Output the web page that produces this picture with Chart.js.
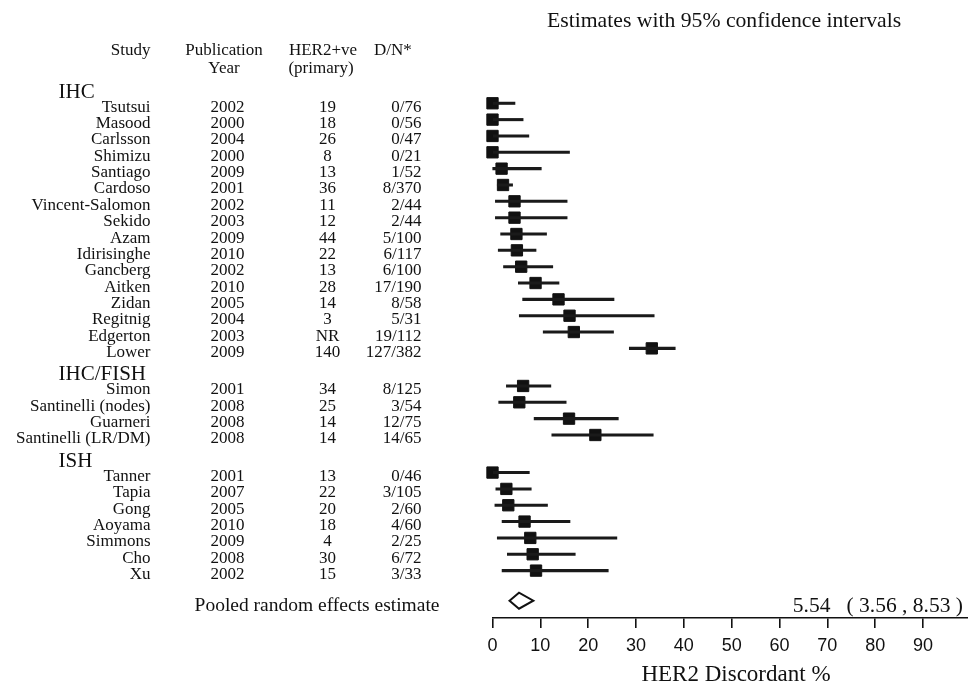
<!DOCTYPE html>
<html>
<head>
<meta charset="utf-8">
<title>HER2 discordance forest plot</title>
<script src="https://cdn.jsdelivr.net/npm/chart.js@4/dist/chart.umd.min.js"></script>
<style>
  html, body { margin: 0; padding: 0; background: #fff; }
  canvas { display: block; }
</style>
</head>
<body>
<canvas id="forest" width="968" height="683"></canvas>
<script>
const groupNames = ['IHC', 'IHC/FISH', 'ISH'];
const studyGroup = [0, 0, 0, 0, 0, 0, 0, 0, 0, 0, 0, 0, 0, 0, 0, 0, 1, 1, 1, 1, 2, 2, 2, 2, 2, 2, 2];
const studies = ['Tsutsui', 'Masood', 'Carlsson', 'Shimizu', 'Santiago', 'Cardoso', 'Vincent-Salomon', 'Sekido',
  'Azam', 'Idirisinghe', 'Gancberg', 'Aitken', 'Zidan', 'Regitnig', 'Edgerton', 'Lower',
  'Simon', 'Santinelli (nodes)', 'Guarneri', 'Santinelli (LR/DM)',
  'Tanner', 'Tapia', 'Gong', 'Aoyama', 'Simmons', 'Cho', 'Xu'];
const years = ['2002', '2000', '2004', '2000', '2009', '2001', '2002', '2003', '2009', '2010', '2002', '2010', '2005',
  '2004', '2003', '2009', '2001', '2008', '2008', '2008', '2001', '2007', '2005', '2010', '2009', '2008', '2002'];
const her2Primary = ['19', '18', '26', '8', '13', '36', '11', '12', '44', '22', '13', '28', '14', '3', 'NR', '140',
  '34', '25', '14', '14', '13', '22', '20', '18', '4', '30', '15'];
const discordant = ['0/76', '0/56', '0/47', '0/21', '1/52', '8/370', '2/44', '2/44', '5/100', '6/117', '6/100',
  '17/190', '8/58', '5/31', '19/112', '127/382', '8/125', '3/54', '12/75', '14/65',
  '0/46', '3/105', '2/60', '4/60', '2/25', '6/72', '3/33'];
// discordance % with 95% CI
const estimate = [0, 0, 0, 0, 1.9, 2.2, 4.6, 4.6, 5.0, 5.1, 6.0, 9.0, 13.8, 16.1, 17.0, 33.3,
  6.4, 5.6, 16.0, 21.5, 0, 2.9, 3.3, 6.7, 7.9, 8.4, 9.1];
const lowerCI = [0, 0, 0, 0, 0.05, 1.0, 0.6, 0.6, 1.7, 1.2, 2.3, 5.4, 6.3, 5.6, 10.6, 28.6,
  2.9, 1.3, 8.7, 12.4, 0, 0.7, 0.5, 2.0, 1.0, 3.1, 2.0];
const upperCI = [4.7, 6.4, 7.6, 16.1, 10.2, 4.2, 15.6, 15.6, 11.3, 9.1, 12.6, 13.9, 25.4, 33.8, 25.3, 38.2,
  12.2, 15.4, 26.3, 33.6, 7.7, 8.1, 11.5, 16.2, 26.0, 17.3, 24.2];
const pooledLabel = 'Pooled random effects estimate';
const pooled = [5.54, 3.56, 8.53]; // estimate, lower, upper
const xTicksStep = 10;

const SERIF = '"Liberation Serif", "Times New Roman", serif';
const SANS = '"Liberation Sans", Arial, sans-serif';
const INK = '#111';

// row positions (in row units), with an extra gap before each new group
function buildRows() {
  const rows = [];
  let v = 0;
  studyGroup.forEach((g, i) => {
    if (i > 0 && g !== studyGroup[i - 1]) v += 1.3;
    rows.push(v);
    v += 1;
  });
  return rows;
}
const rowPos = buildRows();
const pooledPos = rowPos[rowPos.length - 1] + 1.84;

function fmt(n) {
  return n.toFixed(2);
}

const tablePlugin = {
  id: 'forestTable',
  afterDraw(chart) {
    const ctx = chart.ctx;
    const yScale = chart.scales.y;
    ctx.save();
    ctx.fillStyle = INK;
    ctx.textBaseline = 'alphabetic';

    ctx.font = `21.7px ${SERIF}`;
    ctx.textAlign = 'left';
    ctx.fillText('Estimates with 95% confidence intervals', 547, 27);

    ctx.font = `17px ${SERIF}`;
    ctx.textAlign = 'right';
    ctx.fillText('Study', 150.5, 55);
    ctx.textAlign = 'center';
    ctx.fillText('Publication', 224, 55);
    ctx.fillText('Year', 224, 72.5);
    ctx.fillText('HER2+ve', 323, 55);
    ctx.fillText('(primary)', 321, 72.5);
    ctx.textAlign = 'left';
    ctx.fillText('D/N*', 374, 55);

    // group headings
    ctx.font = `21px ${SERIF}`;
    ctx.textAlign = 'left';
    groupNames.forEach((name, g) => {
      const first = studyGroup.indexOf(g);
      ctx.fillText(name, 58.5, yScale.getPixelForValue(rowPos[first]) - 5.5);
    });

    ctx.font = `17px ${SERIF}`;
    studies.forEach((name, i) => {
      const base = yScale.getPixelForValue(rowPos[i]) + 8.5;
      ctx.textAlign = 'right';
      ctx.fillText(name, 150.5, base);
      ctx.textAlign = 'center';
      ctx.fillText(years[i], 227.5, base);
      ctx.fillText(her2Primary[i], 327.5, base);
      ctx.textAlign = 'right';
      ctx.fillText(discordant[i], 421.5, base);
    });

    const pBase = yScale.getPixelForValue(pooledPos);
    ctx.font = `19.5px ${SERIF}`;
    ctx.textAlign = 'right';
    ctx.fillText(pooledLabel, 439.5, pBase + 10);
    ctx.font = `21.5px ${SERIF}`;
    ctx.fillText(`${fmt(pooled[0])}   ( ${fmt(pooled[1])} , ${fmt(pooled[2])} )`, 963, pBase + 11.5);

    ctx.font = `23px ${SERIF}`;
    ctx.textAlign = 'center';
    ctx.fillText('HER2 Discordant %', 736, 681);
    ctx.restore();
  },
};

const [pEst, pLo, pHi] = pooled;
const halfH = 0.49;
const diamond = [
  { x: pLo, y: pooledPos },
  { x: pEst, y: pooledPos - halfH },
  { x: pHi, y: pooledPos },
  { x: pEst, y: pooledPos + halfH },
  { x: pLo, y: pooledPos },
  { x: pEst, y: pooledPos - halfH },
];

new Chart(document.getElementById('forest'), {
  type: 'bar',
  data: {
    datasets: [
      {
        label: '95% CI',
        data: studies.map((_, i) => ({ x: [lowerCI[i], upperCI[i]], y: rowPos[i] })),
        backgroundColor: '#1a1a1a',
        barThickness: 2.4,
        borderWidth: 0,
        clip: false,
      },
      {
        type: 'scatter',
        label: 'Estimate',
        data: studies.map((_, i) => ({ x: estimate[i], y: rowPos[i] })),
        pointStyle: 'rect',
        pointRadius: 8,
        backgroundColor: INK,
        borderColor: INK,
        borderWidth: 1,
        clip: false,
      },
      {
        type: 'line',
        label: 'Pooled',
        data: diamond,
        borderColor: INK,
        borderWidth: 2,
        pointRadius: 0,
        fill: false,
        tension: 0,
        borderJoinStyle: 'miter',
        clip: false,
      },
    ],
  },
  plugins: [tablePlugin],
  options: {
    indexAxis: 'y',
    responsive: false,
    animation: false,
    events: [],
    layout: { autoPadding: false, padding: { left: 492.5, top: 70.6, right: 0, bottom: 0 } },
    plugins: {
      legend: { display: false },
      tooltip: { enabled: false },
    },
    scales: {
      x: {
        type: 'linear',
        position: 'bottom',
        min: 0,
        max: 99.4,
        border: { display: true, color: INK, width: 1.6 },
        grid: { display: true, drawOnChartArea: false, drawTicks: true, tickLength: 10, color: INK, lineWidth: 1.6 },
        ticks: {
          stepSize: xTicksStep,
          includeBounds: false,
          autoSkip: false,
          maxRotation: 0,
          color: INK,
          padding: 7,
          font: { family: SANS, size: 18 },
        },
        afterFit: (scale) => { scale.height = 65; },
      },
      y: {
        type: 'linear',
        display: false,
        reverse: true,
        offset: false,
        min: -2,
        max: 31.5,
      },
    },
  },
});
</script>
</body>
</html>
